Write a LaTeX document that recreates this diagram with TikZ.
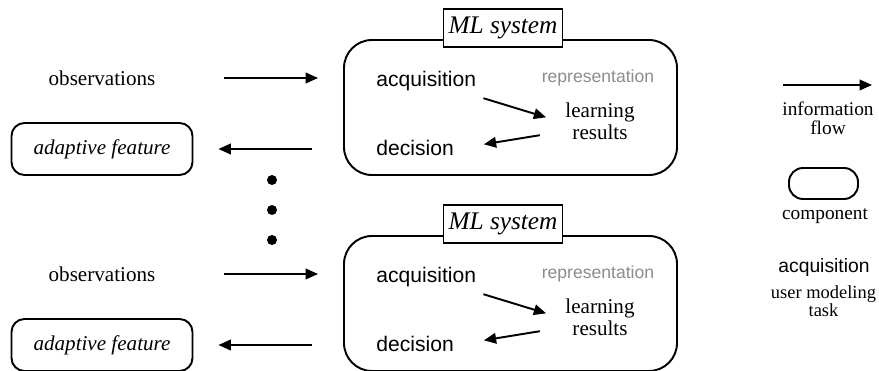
\documentclass[12pt,tikz,border=0pt]{standalone}
\usepackage{fontspec}
\setmainfont{Liberation Serif}
\setsansfont{Liberation Sans}
\usetikzlibrary{arrows.meta, positioning}

\definecolor{reprgray}{gray}{0.55}

\tikzset{
	flow/.style={-{Triangle[length=7pt,width=6pt]}, line width=1.1pt},
	sysbox/.style={draw, line width=1.1pt, rounded corners=0.56cm, minimum width=6.66cm, minimum height=2.7cm},
	compbox/.style={draw, line width=1.1pt, rounded corners=0.26cm, minimum width=3.62cm, minimum height=1.04cm, font=\fontsize{12}{14}\selectfont\itshape},
	syslabel/.style={draw, fill=white, line width=0.6pt, inner xsep=3pt, minimum height=0.76cm, font=\fontsize{14.4}{16}\selectfont\itshape},
	umtask/.style={anchor=west, font=\fontsize{12}{14}\selectfont\sffamily},
	repr/.style={text=reprgray, font=\fontsize{10}{12}\selectfont\sffamily},
	result/.style={align=center, font=\fontsize{12}{12.5}\selectfont},
	legend/.style={align=center, font=\fontsize{11}{10.8}\selectfont}
}

\begin{document}
\begin{tikzpicture}

	% Dimensions
	\def\gap{3.92}
	\def\obsx{2.04}
	\def\sysx{10.21}

	\useasboundingbox (0,0) rectangle (17.58,7.42);

	% Upper ML system
	\node[sysbox] (sys1) at (\sysx, 5.27) {};
	\node[syslabel] (lab1) at (10.06, 6.86) {ML system};
	\node[umtask] (acq1) at (7.38, 5.80) {acquisition};
	\node[umtask] (dec1) at (7.38, 4.46) {decision};
	\node[repr] (rep1) at (11.96, 5.86) {representation};
	\node[result] (learn1) at (12.0, 5.0) {learning\\results};
	\draw[flow, shorten >=0.25cm] (acq1.south east) -- (learn1.west);
	\draw[flow, shorten <=0.37cm, shorten >=0.46cm] (learn1.195) -- (dec1.east);

	% Upper observations and adaptive feature
	\node[font=\fontsize{12}{14}\selectfont] (obs1) at (\obsx, 5.86) {observations};
	\node[compbox] (adapt1) at (\obsx, 4.44) {adaptive feature};
	\draw[flow, shorten <=1.22cm, shorten >=0.5cm] (obs1) -- (obs1 -| sys1.west);
	\draw[flow, shorten <=0.62cm, shorten >=0.5cm] (sys1.west |- adapt1) -- (adapt1);

	% Dots
	\fill (5.44, 3.82) circle (0.1);
	\fill (5.44, 3.22) circle (0.1);
	\fill (5.44, 2.62) circle (0.1);

	% Lower ML system
	\node[sysbox] (sys2) at (\sysx, 5.27-\gap) {};
	\node[syslabel] (lab2) at (10.06, 6.86-\gap) {ML system};
	\node[umtask] (acq2) at (7.38, 5.80-\gap) {acquisition};
	\node[umtask] (dec2) at (7.38, 4.46-\gap) {decision};
	\node[repr] (rep2) at (11.96, 5.86-\gap) {representation};
	\node[result] (learn2) at (12.0, 5.0-\gap) {learning\\results};
	\draw[flow, shorten >=0.25cm] (acq2.south east) -- (learn2.west);
	\draw[flow, shorten <=0.37cm, shorten >=0.46cm] (learn2.195) -- (dec2.east);

	% Lower observations and adaptive feature
	\node[font=\fontsize{12}{14}\selectfont] (obs2) at (\obsx, 5.86-\gap) {observations};
	\node[compbox] (adapt2) at (\obsx, 4.44-\gap) {adaptive feature};
	\draw[flow, shorten <=1.22cm, shorten >=0.5cm] (obs2) -- (obs2 -| sys2.west);
	\draw[flow, shorten <=0.62cm, shorten >=0.5cm] (sys2.west |- adapt2) -- (adapt2);

	% Legend
	\coordinate (flowstart) at (15.66, 5.72);
	\coordinate (flowend) at (17.44, 5.72);
	\draw[flow] (flowstart) -- (flowend);
	\node[legend] (flowkey) at (16.56, 5.05) {information\\flow};
	\node[draw, line width=1.1pt, rounded corners=0.28cm, minimum width=1.38cm, minimum height=0.62cm] (compkey) at (16.47, 3.75) {};
	\node[legend] (compname) at (16.5, 3.1) {component};
	\node[font=\fontsize{11}{12}\selectfont\sffamily] (taskkey) at (16.48, 2.06) {acquisition};
	\node[legend, font=\fontsize{10.5}{10.5}\selectfont] (taskname) at (16.47, 1.4) {user modeling\\task};

\end{tikzpicture}
\end{document}
